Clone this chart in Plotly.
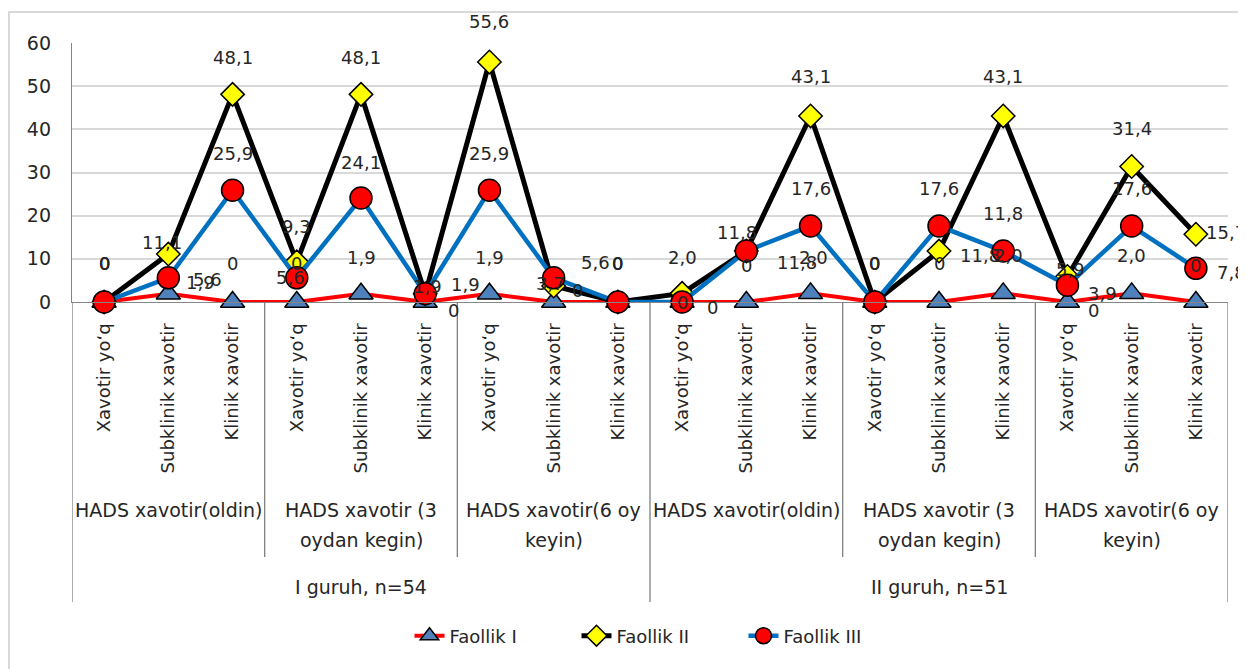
import plotly.graph_objects as go

# ---------------- data ----------------
categories = ["Xavotir yo‘q", "Subklinik xavotir", "Klinik xavotir"] * 6
subgroups = ["HADS xavotir(oldin)", "HADS xavotir (3\noydan kegin)", "HADS xavotir(6 oy\nkeyin)"] * 2
groups = ["I guruh, n=54", "II guruh, n=51"]
y_ticks = [0, 10, 20, 30, 40, 50, 60]

faollik1 = [0, 1.9, 0, 0, 1.9, 0, 1.9, 0, 0, 0, 0, 2.0, 0, 0, 2.0, 0, 2.0, 0]
faollik2 = [0, 11.1, 48.1, 9.3, 48.1, 1.9, 55.6, 3.7, 0, 2.0, 11.8, 43.1, 0, 11.8, 43.1, 5.9, 31.4, 15.7]
faollik3 = [0, 5.6, 25.9, 5.6, 24.1, 1.9, 25.9, 5.6, 0, 0, 11.8, 17.6, 0, 17.6, 11.8, 3.9, 17.6, 7.8]
series_names = ["Faollik I", "Faollik II", "Faollik III"]

# ---------------- styles ----------------
# label offsets (dx, dy) in screen pixels relative to each marker
off1 = [(0, -39), (32, -11), (0, -39), (0, -39), (0, -36), (28, 8), (0, -36), (24, -12), (0, -39),
        (30, 5), (0, -37), (3, -36), (0, -39), (0, -39), (5, -38), (26, 8), (0, -38), (0, -37)]
off2 = [(0, -39), (-6, -12), (0, -37), (0, -35), (0, -37), (40, -9), (0, -40), (-3, -3), (0, -39),
        (0, -36), (-9, -19), (0, -39), (0, -39), (41, 4), (0, -39), (3, -7), (0, -38), (30, -2)]
off3 = [(0, -39), (39, 2), (0, -37), (-6, 0), (0, -35), (2, -7), (0, -37), (42, -15), (0, -39),
        (0, 0), (51, 11), (0, -38), (0, -39), (0, -38), (0, -38), (35, 8), (0, -38), (36, 4)]

FONT = "DejaVu Sans"
TXT = "#262626"
PAGE_OFF = 8                      # browser body margin
W, H = 1246 - PAGE_OFF, 669 - PAGE_OFF
PLOT_X0, PLOT_X1, PLOT_Y0, PLOT_Y1 = 72, 1228, 43, 302   # target screen pixels of plot area
L = PLOT_X0 - PAGE_OFF
T = PLOT_Y0 - PAGE_OFF
R = W - (PLOT_X1 - PAGE_OFF)
B = H - (PLOT_Y1 - PAGE_OFF)
PW, PH = W - L - R, H - T - B


def px_x(sx):
    """screen x pixel -> paper coordinate"""
    return (sx - PLOT_X0) / PW


def px_y(sy):
    """screen y pixel -> paper coordinate"""
    return (PLOT_Y1 - sy) / PH


def fmt(v):
    return "0" if v == 0 else f"{v:.1f}".replace(".", ",")


x = list(range(len(categories)))

fig = go.Figure()
fig.add_trace(go.Scatter(
    x=x, y=faollik1, name=series_names[0], mode="lines+markers",
    line=dict(color="#FF0000", width=4),
    marker=dict(symbol="triangle-up", size=21, color="#4F81BD", line=dict(color="black", width=1.5)),
    cliponaxis=False))
fig.add_trace(go.Scatter(
    x=x, y=faollik2, name=series_names[1], mode="lines+markers",
    line=dict(color="#000000", width=5),
    marker=dict(symbol="diamond", size=18, color="#FFFF00", line=dict(color="black", width=1.5)),
    cliponaxis=False))
fig.add_trace(go.Scatter(
    x=x, y=faollik3, name=series_names[2], mode="lines+markers",
    line=dict(color="#0070C0", width=4.5),
    marker=dict(symbol="circle", size=22, color="#FF0000", line=dict(color="black", width=1.5)),
    cliponaxis=False))

annotations = []
for vals, offs in ((faollik1, off1), (faollik2, off2), (faollik3, off3)):
    for i, v in enumerate(vals):
        dx, dy = offs[i]
        annotations.append(dict(x=i, y=v, xref="x", yref="y", text=fmt(v), showarrow=False,
                                xanchor="center", yanchor="middle",
                                xshift=dx, yshift=-dy, font=dict(family=FONT, size=18, color=TXT)))

# subgroup labels (second level)
for k, sg in enumerate(subgroups):
    center = 3 * k + 1
    for j, line in enumerate(sg.split("\n")):
        annotations.append(dict(x=center, y=px_y(510 + 30 * j), xref="x", yref="paper", text=line,
                                xanchor="center", yanchor="middle",
                                showarrow=False, font=dict(family=FONT, size=19, color=TXT)))
# group labels (third level)
for g, name in enumerate(groups):
    annotations.append(dict(x=9 * g + 4, y=px_y(587), xref="x", yref="paper", text=name,
                            xanchor="center", yanchor="middle",
                            showarrow=False, font=dict(family=FONT, size=19, color=TXT)))

shapes = []
# outer frame of the chart
shapes.append(dict(type="rect", xref="paper", yref="paper", x0=px_x(PAGE_OFF + 1), x1=px_x(1260),
                   y0=px_y(690), y1=px_y(12), fillcolor="rgba(0,0,0,0)",
                   line=dict(color="#D9D9D9", width=2), layer="below"))
# category-axis dividers
for b in range(0, len(categories) + 1, 3):
    xb = b - 0.5
    bottom = 602 if b % 9 == 0 else 557
    shapes.append(dict(type="line", xref="x", yref="paper", x0=xb, x1=xb,
                       y0=0, y1=px_y(bottom), line=dict(color="#808080", width=1.3)))

fig.update_layout(
    width=W, height=H,
    margin=dict(l=L, r=R, t=T, b=B, autoexpand=False),
    paper_bgcolor="white", plot_bgcolor="white",
    font=dict(family=FONT, size=19, color=TXT),
    showlegend=True,
    legend=dict(orientation="h", x=px_x(660), xanchor="center", y=px_y(636), yanchor="middle",
                font=dict(family=FONT, size=18, color=TXT), bgcolor="rgba(0,0,0,0)",
                entrywidth=122, traceorder="normal"),
    xaxis=dict(range=[-0.5, len(categories) - 0.5], tickmode="array", tickvals=x, ticktext=categories,
               tickangle=-90, showgrid=False, zeroline=False, showline=True, linecolor="#868686",
               linewidth=1.3, ticks="", ticklabelstandoff=13,
               tickfont=dict(family=FONT, size=18, color=TXT)),
    yaxis=dict(range=[0, 60], tickmode="array", tickvals=y_ticks, showgrid=True, gridcolor="#D9D9D9",
               gridwidth=2, zeroline=False, showline=True, linecolor="#868686", linewidth=1.3,
               ticks="", ticklabelstandoff=16, tickfont=dict(family=FONT, size=19, color=TXT)),
    annotations=annotations,
    shapes=shapes,
)

fig.write_html("out.html")
